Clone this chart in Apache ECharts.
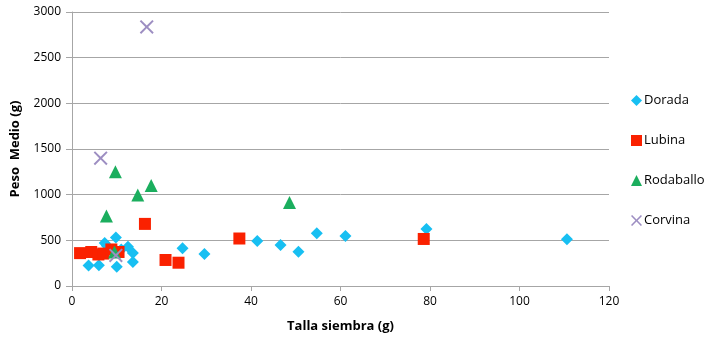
<!DOCTYPE html>
<html>
<head>
<meta charset="utf-8">
<script src="https://cdn.jsdelivr.net/npm/echarts@6/dist/echarts.min.js"></script>
<style>
  html, body { margin: 0; padding: 0; background: #fff; }
  #chart { width: 712px; height: 340px; }
</style>
</head>
<body>
<div id="chart"></div>
<script>
// Talla de siembra (g) frente a peso medio (g) por especie
const dorada = [
  [3.7, 225], [6.0, 228], [7.3, 470], [7.8, 440], [9.8, 530], [10.0, 212],
  [11.0, 400], [12.5, 430], [13.6, 360], [13.6, 262], [24.7, 413], [29.6, 350],
  [41.4, 493], [46.6, 449], [50.6, 376], [54.7, 577], [61.1, 548], [79.2, 625],
  [110.6, 511]
];
const lubina = [
  [1.8, 360], [4.3, 372], [5.9, 345], [7.0, 355], [8.8, 400], [10.4, 372],
  [16.3, 680], [20.9, 285], [23.8, 255], [37.4, 520], [78.6, 515]
];
const rodaballo = [
  [7.7, 767], [9.7, 1252], [9.5, 372], [14.7, 997], [17.7, 1099], [48.6, 915]
];
const corvina = [
  [6.4, 1400], [16.7, 2837], [9.8, 335]
];
const xTicks = { min: 0, max: 120, interval: 20 };
const yTicks = { min: 0, max: 3000, interval: 500 };

const crossPath = 'path://M0,1 L1,0 L5,4 L9,0 L10,1 L6,5 L10,9 L9,10 L5,6 L1,10 L0,9 L4,5 Z';
const font = 'Open Sans, Noto Sans, sans-serif';

const chart = echarts.init(document.getElementById('chart'));
chart.setOption({
  animation: false,
  textStyle: { fontFamily: font },
  grid: { left: 72, right: 103, top: 12, bottom: 54 },
  xAxis: {
    type: 'value',
    min: xTicks.min, max: xTicks.max, interval: xTicks.interval,
    name: 'Talla siembra (g)',
    nameLocation: 'middle',
    nameGap: 34,
    nameTextStyle: { fontWeight: 'bold', fontSize: 13, color: '#000', fontFamily: font },
    axisLine: { show: true, lineStyle: { color: '#a6a6a6', width: 1 } },
    axisTick: { show: true, length: 5, lineStyle: { color: '#a6a6a6' } },
    axisLabel: { color: '#000', fontSize: 12, margin: 10, formatter: v => String(v) },
    splitLine: { show: false }
  },
  yAxis: {
    type: 'value',
    min: yTicks.min, max: yTicks.max, interval: yTicks.interval,
    name: 'Peso  Medio (g)',
    nameLocation: 'middle',
    nameGap: 50,
    nameTextStyle: { fontWeight: 'bold', fontSize: 13, color: '#000', fontFamily: font },
    axisLine: { show: true, lineStyle: { color: '#a6a6a6', width: 1 } },
    axisTick: { show: true, length: 6, lineStyle: { color: '#a6a6a6' } },
    axisLabel: { color: '#000', fontSize: 12, margin: 11, formatter: v => String(v) },
    splitLine: { show: true, lineStyle: { color: '#a6a6a6', width: 1 } }
  },
  legend: {
    orient: 'vertical',
    left: 626,
    top: 89,
    itemGap: 27,
    itemWidth: 11,
    itemHeight: 11,
    textStyle: { fontSize: 13, color: '#000', fontFamily: font, padding: [0, 0, 0, -3] },
    data: [
      { name: 'Dorada', icon: 'diamond' },
      { name: 'Lubina', icon: 'rect' },
      { name: 'Rodaballo', icon: 'triangle' },
      { name: 'Corvina', icon: crossPath }
    ]
  },
  series: [
    {
      name: 'Dorada', type: 'scatter', data: dorada,
      symbol: 'diamond', symbolSize: 12,
      itemStyle: { color: '#17bff2', opacity: 1 }
    },
    {
      name: 'Lubina', type: 'scatter', data: lubina,
      symbol: 'rect', symbolSize: 12,
      itemStyle: { color: '#fa2100', opacity: 1 }
    },
    {
      name: 'Rodaballo', type: 'scatter', data: rodaballo,
      symbol: 'triangle', symbolSize: 13,
      itemStyle: { color: '#1bae5e', opacity: 1 }
    },
    {
      name: 'Corvina', type: 'scatter', data: corvina,
      symbol: crossPath, symbolSize: 14,
      itemStyle: { color: '#9d8ec2', opacity: 1 }
    }
  ]
});
</script>
</body>
</html>
